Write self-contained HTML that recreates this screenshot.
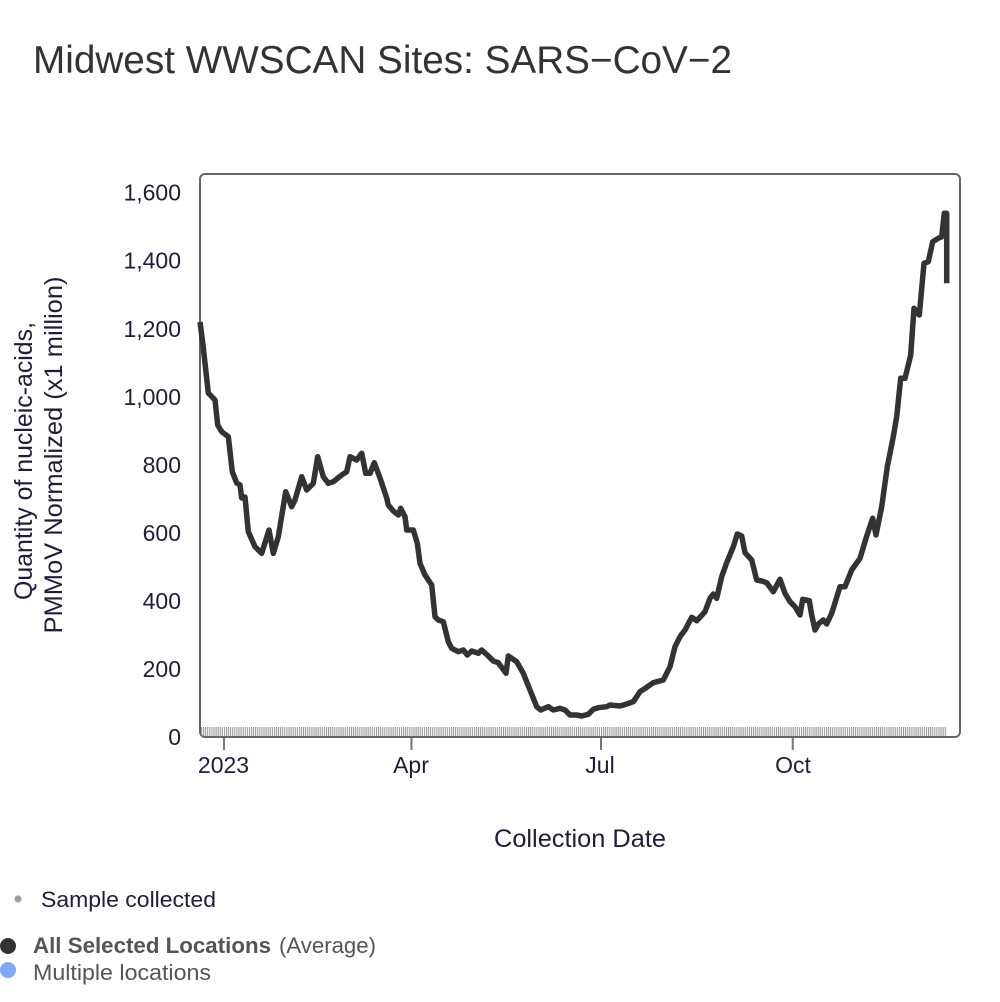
<!DOCTYPE html>
<html>
<head>
<meta charset="utf-8">
<style>
  html, body { margin: 0; padding: 0; background: #ffffff; }
  body { width: 1000px; height: 1002px; overflow: hidden; }
  svg { display: block; }
  text { font-family: "Liberation Sans", Arial, sans-serif; }
</style>
</head>
<body>
<svg width="1000" height="1002" viewBox="0 0 1000 1002" xmlns="http://www.w3.org/2000/svg">
  <defs>
    <pattern id="rug" x="201" y="0" width="2.0833" height="20" patternUnits="userSpaceOnUse">
      <rect x="0" y="0" width="1" height="20" fill="#929292"/>
    </pattern>
  </defs>
  <rect x="0" y="0" width="1000" height="1002" fill="#ffffff"/>

  <!-- Title -->
  <text x="33" y="73" font-size="38.5" fill="#333333" textLength="699" lengthAdjust="spacingAndGlyphs">Midwest WWSCAN Sites: SARS−CoV−2</text>

  <!-- Plot box -->
  <rect x="200" y="174" width="760" height="563" rx="5" ry="5" fill="none" stroke="#666666" stroke-width="2"/>

  <!-- Rug (samples) -->
  <rect x="201" y="727" width="746" height="9" fill="url(#rug)"/>

  <!-- X ticks -->
  <g stroke="#777777" stroke-width="2">
    <line x1="224" y1="738" x2="224" y2="750"/>
    <line x1="411.5" y1="738" x2="411.5" y2="750"/>
    <line x1="601" y1="738" x2="601" y2="750"/>
    <line x1="792.75" y1="738" x2="792.75" y2="750"/>
  </g>

  <!-- X tick labels -->
  <g font-size="23" fill="#1e1e3c" text-anchor="middle">
    <text x="223.5" y="773">2023</text>
    <text x="411" y="773">Apr</text>
    <text x="600" y="773">Jul</text>
    <text x="793" y="773">Oct</text>
  </g>

  <!-- Y tick labels -->
  <g font-size="23" fill="#1e1e3c" text-anchor="end">
    <text x="181" y="745">0</text>
    <text x="181" y="677">200</text>
    <text x="181" y="609">400</text>
    <text x="181" y="541">600</text>
    <text x="181" y="473">800</text>
    <text x="181" y="404.8">1,000</text>
    <text x="181" y="336.8">1,200</text>
    <text x="181" y="268.7">1,400</text>
    <text x="181" y="200.7">1,600</text>
  </g>

  <!-- Axis titles -->
  <g font-size="25" fill="#1e1e3c" text-anchor="middle">
    <text transform="translate(32,461) rotate(-90)" x="0" y="0" textLength="278" lengthAdjust="spacingAndGlyphs">Quantity of nucleic-acids,</text>
    <text transform="translate(62,455) rotate(-90)" x="0" y="0" textLength="357" lengthAdjust="spacingAndGlyphs">PMMoV Normalized (x1 million)</text>
    <text x="580" y="847" textLength="172" lengthAdjust="spacingAndGlyphs">Collection Date</text>
  </g>

  <!-- Data line -->
  <polyline fill="none" stroke="#333333" stroke-width="5.5" stroke-linejoin="round" stroke-linecap="butt"
    points="200,322 203,345 208.3,393 215,400 217.7,425 221.7,431.7 228.3,436.7 232.3,471.7 236.7,483 240,485 241.7,498 245,497 248.3,531.7 255,546.7 261.7,553.3 269,530 273.3,553.3 278.3,536.7 285.7,491.7 291.7,506.7 295,500 301.7,476.7 306.7,490 313.3,483.3 317.7,456.7 323.3,476.7 328.3,483.3 333.3,481.7 341.7,475 346.7,471.7 350,456.7 356.7,460 361.7,453.3 365.7,473.3 370,473.3 374.3,462.7 380,478 386.7,498 388.3,505 393.3,511 398.3,515 400.7,508.3 405,516.7 406.7,530 413.3,530 417.3,543.3 420,563.3 425,575 431.7,585 435,616.7 438.3,620 443.3,621.7 448.3,641.7 451.7,648.3 458.3,651.7 463.3,650 467.3,655 471.7,651 478.3,653.3 481.7,650 488.3,656 493.3,661 498.3,662.7 506,673.3 508.3,656 516.7,661.7 523.3,673.3 530,690 536.7,706.7 540.7,710 548.3,706.7 553.3,710 560,708.3 565,710 570,715 576.7,715 581.7,716 588.3,714.3 593.3,709.3 598.3,707.7 606.7,706.7 610,705 620,706 626.7,704 633.3,701.7 640,691.7 646.7,687.3 653.3,682.7 663.3,680 670,666.7 675,646.7 680,636.7 685,630 691.7,617.3 696.7,620.7 705,611.7 710,598.3 713.3,594 716.7,598.3 721.7,576.7 726.7,562.7 733.3,546.7 737.3,534 741.7,536 745,552.7 751.7,560 756.7,580 761.7,581 766.7,582.7 773.3,591.7 780,579.3 785,593.3 790,601.7 795,606.7 800,615 802.7,599.3 809.3,600.7 811.7,615 815,630 818.3,624 823.3,620 826.7,624 831.7,613.3 840,586.7 845,586.7 851.7,570 860,558.3 866,538.3 872.7,518.3 876,535 881.7,506.7 887.3,466.7 893.3,436.7 896.7,416.7 900.7,378.3 905,378.3 908.3,365 910.7,355 914,308.3 919.3,315 924,263.3 928.3,261.7 932.7,241.7 938.3,238.3 941.7,236.7 944.3,213.3 946.7,213.3 946.7,283.3"/>

  <!-- Legend -->
  <circle cx="18" cy="899" r="3.6" fill="#9a9ea6"/>
  <text x="41" y="907" font-size="22" fill="#1e1e3c" textLength="175" lengthAdjust="spacingAndGlyphs">Sample collected</text>

  <circle cx="8" cy="946" r="8" fill="#333333"/>
  <text x="33" y="953" font-size="22" font-weight="bold" fill="#555555" textLength="238" lengthAdjust="spacingAndGlyphs">All Selected Locations</text>
  <text x="279" y="953" font-size="22" fill="#555555" textLength="97" lengthAdjust="spacingAndGlyphs">(Average)</text>

  <circle cx="8" cy="970" r="8" fill="#80a8f6"/>
  <text x="33" y="980" font-size="22" fill="#555555" textLength="178" lengthAdjust="spacingAndGlyphs">Multiple locations</text>
</svg>
</body>
</html>
